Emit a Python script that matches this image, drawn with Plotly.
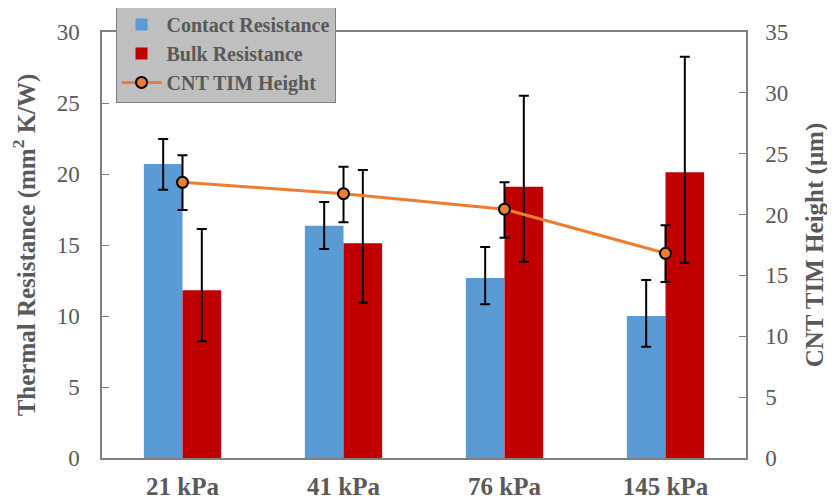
import plotly.graph_objects as go

categories = ["21 kPa", "41 kPa", "76 kPa", "145 kPa"]

contact = [20.7, 16.36, 12.68, 10.0]
contact_err_plus = [1.76, 1.67, 2.18, 2.54]
contact_err_minus = [1.81, 1.64, 1.86, 2.16]

bulk = [11.81, 15.12, 19.1, 20.12]
bulk_err_plus = [4.32, 5.16, 6.41, 8.14]
bulk_err_minus = [3.59, 4.18, 5.28, 6.37]

height = [22.65, 21.72, 20.44, 16.82]
height_err_plus = [2.22, 2.2, 2.21, 2.3]
height_err_minus = [2.27, 2.35, 2.34, 2.36]

FONT = "Liberation Serif, Times New Roman, serif"
TXT = "#595959"
AX = "#7f7f7f"

fig = go.Figure()

fig.add_trace(go.Bar(
    x=categories, y=contact, name="Contact Resistance",
    marker=dict(color="#5B9BD5", line=dict(width=0)),
    error_y=dict(type="data", symmetric=False, array=contact_err_plus,
                 arrayminus=contact_err_minus, color="black", thickness=2, width=5),
    yaxis="y",
))
fig.add_trace(go.Bar(
    x=categories, y=bulk, name="Bulk Resistance",
    marker=dict(color="#C00000", line=dict(width=0)),
    error_y=dict(type="data", symmetric=False, array=bulk_err_plus,
                 arrayminus=bulk_err_minus, color="black", thickness=2, width=5),
    yaxis="y",
))
fig.add_trace(go.Scatter(
    x=categories, y=height, name="CNT TIM Height", mode="lines+markers",
    line=dict(color="#ED7D31", width=3),
    marker=dict(color="#ED7D31", size=11, line=dict(color="black", width=2)),
    error_y=dict(type="data", symmetric=False, array=height_err_plus,
                 arrayminus=height_err_minus, color="black", thickness=2, width=5),
    yaxis="y2",
))

fig.update_layout(
    width=835, height=499,
    margin=dict(l=94, r=97, t=24, b=49, autoexpand=False),
    paper_bgcolor="white", plot_bgcolor="white",
    barmode="group", bargap=0.52, bargroupgap=0,
    font=dict(family=FONT, color=TXT, size=23),
    showlegend=True,
    legend=dict(
        x=0.021, y=1.066, xanchor="left", yanchor="top",
        bgcolor="#BFBFBF", bordercolor=AX, borderwidth=1,
        font=dict(family=FONT, size=20, color=TXT, weight="bold"),
        tracegroupgap=0, itemwidth=40,
    ),
    xaxis=dict(
        showline=True, linecolor=AX, linewidth=1.5, mirror=True,
        ticks="", showgrid=False,
        tickfont=dict(family=FONT, size=25, color=TXT, weight="bold"),
        ticklabelstandoff=5,
    ),
    yaxis=dict(
        range=[0, 30], dtick=5, showline=True, linecolor=AX, linewidth=1.5,
        ticks="inside", ticklen=7, tickcolor=AX, showgrid=False, zeroline=False,
        tickfont=dict(family=FONT, size=23, color=TXT),
        ticklabelstandoff=16,
        title=dict(text="Thermal Resistance (mm<sup>2</sup> K/W)", standoff=20,
                   font=dict(family=FONT, size=25, color=TXT, weight="bold")),
    ),
    yaxis2=dict(
        range=[0, 35], dtick=5, overlaying="y", side="right",
        showline=True, linecolor=AX, linewidth=1.5,
        ticks="inside", ticklen=7, tickcolor=AX, showgrid=False, zeroline=False,
        tickfont=dict(family=FONT, size=23, color=TXT),
        ticklabelstandoff=13,
        title=dict(text="CNT TIM Height (μm)", standoff=18,
                   font=dict(family=FONT, size=25, color=TXT, weight="bold")),
    ),
)

fig.write_html("out.html")
